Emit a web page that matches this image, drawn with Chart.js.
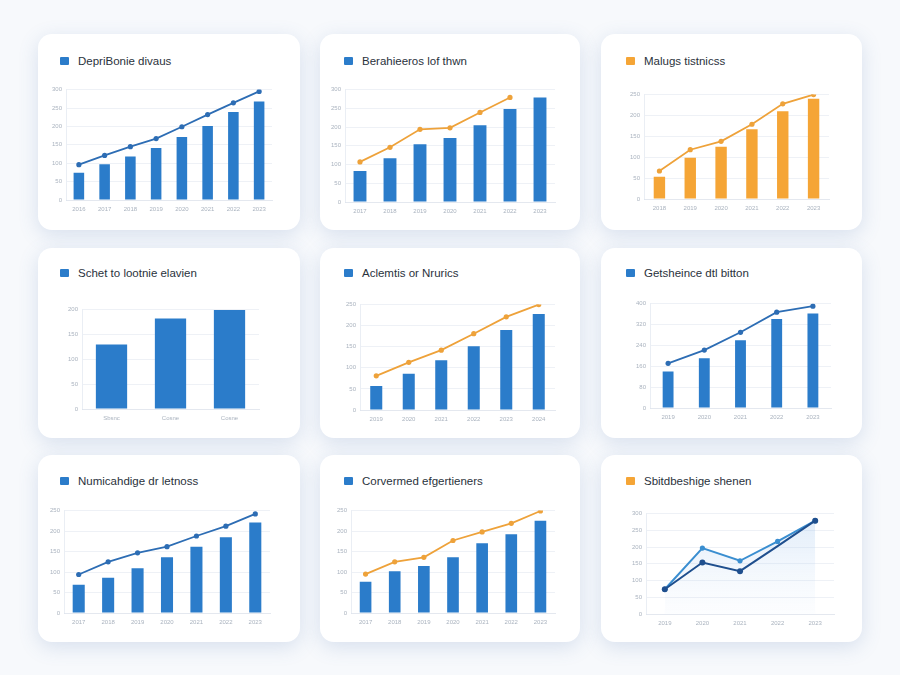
<!DOCTYPE html>
<html>
<head>
<meta charset="utf-8">
<script src="https://cdn.jsdelivr.net/npm/chart.js@4"></script>
<style>
  html, body { margin: 0; padding: 0; }
  body { width: 900px; height: 675px; background: #f7f9fc; position: relative; overflow: hidden; }
  .card { position: absolute; background: #fff; border-radius: 14px; box-shadow: 0 5px 20px rgba(70, 110, 170, 0.18); }
  .title { position: absolute; font: 11.5px "Liberation Sans", Arial, sans-serif; color: #2a323c; white-space: nowrap; }
  .title i { position: absolute; left: -18px; top: 2px; width: 9px; height: 8px; border-radius: 1px; }
  .box { position: absolute; }
</style>
</head>
<body>
<script>
const blue = '#2b7cca';
const blueLine = '#2d6db4';
const orange = '#f5a536';
const orangeLine = '#eea23a';

// card titles (as printed)
const titles = [
  'DepriBonie divaus', 'Berahieeros lof thwn', 'Malugs tistnicss',
  'Schet to lootnie elavien', 'Aclemtis or Nrurics', 'Getsheince dtl bitton',
  'Numicahdige dr letnoss', 'Corvermed efgertieners', 'Sbitdbeshige shenen'
];
const titleColors = [blue, blue, orange, blue, blue, blue, blue, blue, orange];

// chart 1
const c1Labels = ['2016', '2017', '2018', '2019', '2020', '2021', '2022', '2023'];
const c1Bars = [74, 97, 118, 141, 171, 201, 239, 268];
const c1Line = [96, 121, 145, 167, 199, 232, 264, 295];
// chart 2
const c2Labels = ['2017', '2018', '2019', '2020', '2021', '2022', '2023'];
const c2Bars = [83, 117, 154, 171, 205, 248, 279];
const c2Line = [107, 146, 194, 198, 239, 279, null];
// chart 3
const c3Labels = ['2018', '2019', '2020', '2021', '2022', '2023'];
const c3Bars = [53, 99, 125, 167, 210, 240];
const c3Line = [67, 118, 138, 179, 228, 250];
// chart 4
const c4Labels = ['Sbsnc', 'Cosne', 'Cosne'];
const c4Bars = [130, 182, 199];
// chart 5
const c5Labels = ['2019', '2020', '2021', '2022', '2023', '2024'];
const c5Bars = [57, 86, 118, 151, 190, 228];
const c5Line = [81, 113, 142, 181, 221, 250];
// chart 6
const c6Labels = ['2019', '2020', '2021', '2022', '2023'];
const c6Bars = [140, 191, 260, 341, 362];
const c6Line = [171, 222, 290, 367, 390];
// chart 7
const c7Labels = ['2017', '2018', '2019', '2020', '2021', '2022', '2023'];
const c7Bars = [69, 86, 109, 136, 162, 185, 221];
const c7Line = [94, 125, 147, 162, 188, 212, 242];
// chart 8
const c8Labels = ['2017', '2018', '2019', '2020', '2021', '2022', '2023'];
const c8Bars = [76, 102, 115, 136, 170, 192, 225];
const c8Line = [95, 125, 136, 177, 198, 219, 249];
// chart 9
const c9Labels = ['2019', '2020', '2021', '2022', '2023'];
const c9Upper = [74, 197, 159, 217, 279];
const c9Lower = [74, 154, 128, 203, 279];

// layout: cards [x, y, w, h], plot areas [left, right, top, bottom]
const cards = [
  [38, 34, 262, 196], [320, 34, 260, 196], [601, 34, 261, 196],
  [38, 248, 262, 190], [320, 248, 260, 190], [601, 248, 261, 190],
  [38, 455, 262, 187], [320, 455, 260, 187], [601, 455, 261, 187]
];
const titlePos = [[78, 55], [362, 55], [644, 55], [78, 267], [362, 267], [644, 267], [78, 475], [362, 475], [644, 475]];
const plots = [
  [66, 272, 87, 200], [345, 555, 87, 202], [644, 829, 92, 199],
  [82, 259, 307, 409], [360, 555, 302, 410], [650, 831, 301, 408],
  [64, 270, 508, 613], [351, 555, 508, 613], [646, 834, 511, 614]
];
const yW = 28, xH = 16, padTop = 5, padRight = 4;

cards.forEach((c, i) => {
  let d = document.createElement('div');
  d.className = 'card';
  Object.assign(d.style, { left: c[0] + 'px', top: c[1] + 'px', width: c[2] + 'px', height: c[3] + 'px' });
  document.body.appendChild(d);
  let t = document.createElement('div');
  t.className = 'title';
  t.style.left = titlePos[i][0] + 'px';
  t.style.top = titlePos[i][1] + 'px';
  t.innerHTML = `<i style="background:${titleColors[i]}"></i>${titles[i]}`;
  document.body.appendChild(t);
});

function barSet(data, color, pct) {
  return { type: 'bar', data, backgroundColor: color, barPercentage: pct, categoryPercentage: 1, order: 1 };
}
function lineSet(data, color) {
  return {
    type: 'line', data, borderColor: color, backgroundColor: color, borderWidth: 1.8,
    pointRadius: 2.6, pointBackgroundColor: color, pointBorderWidth: 0, tension: 0, order: 0
  };
}

function makeChart(i, labels, datasets, yMax, yStep) {
  let [L, R, T, B] = plots[i];
  let box = document.createElement('div');
  box.className = 'box';
  Object.assign(box.style, {
    left: (L - yW) + 'px', top: (T - padTop) + 'px',
    width: (R - L + yW + padRight) + 'px', height: (B - T + padTop + xH) + 'px'
  });
  let cv = document.createElement('canvas');
  box.appendChild(cv);
  document.body.appendChild(box);
  const tickFont = { family: 'Liberation Sans', size: 6 };
  return new Chart(cv, {
    type: 'bar',
    data: { labels, datasets },
    options: {
      responsive: true, maintainAspectRatio: false, animation: false,
      layout: { padding: { top: padTop, right: padRight, left: 0, bottom: 0 } },
      plugins: { legend: { display: false }, tooltip: { enabled: false } },
      scales: {
        x: {
          offset: true,
          grid: { display: false, drawTicks: false, tickLength: 0 },
          border: { color: '#e4e8ef' },
          ticks: { font: tickFont, color: '#aab3bf', padding: 6, maxRotation: 0, autoSkip: false },
          afterFit: (s) => { s.height = xH; }
        },
        y: {
          min: 0, max: yMax,
          grid: { color: 'rgba(205,215,228,0.35)', drawTicks: false },
          border: { color: 'rgba(220,226,236,0.6)' },
          ticks: { font: tickFont, color: '#aab3bf', padding: 4, stepSize: yStep },
          afterFit: (s) => { s.width = yW; }
        }
      }
    }
  });
}

makeChart(0, c1Labels, [lineSet(c1Line, blueLine), barSet(c1Bars, blue, 0.41)], 300, 50);
makeChart(1, c2Labels, [lineSet(c2Line, orangeLine), barSet(c2Bars, blue, 0.43)], 300, 50);
makeChart(2, c3Labels, [lineSet(c3Line, orangeLine), barSet(c3Bars, orange, 0.37)], 250, 50);
makeChart(3, c4Labels, [barSet(c4Bars, blue, 0.53)], 200, 50);
makeChart(4, c5Labels, [lineSet(c5Line, orangeLine), barSet(c5Bars, blue, 0.37)], 250, 50);
makeChart(5, c6Labels, [lineSet(c6Line, blueLine), barSet(c6Bars, blue, 0.30)], 400, 80);
makeChart(6, c7Labels, [lineSet(c7Line, blueLine), barSet(c7Bars, blue, 0.41)], 250, 50);
makeChart(7, c8Labels, [lineSet(c8Line, orangeLine), barSet(c8Bars, blue, 0.40)], 250, 50);

// chart 9: two lines with a soft area
const upper = lineSet(c9Upper, '#3a8ed0');
upper.fill = 'origin';
upper.borderWidth = 2;
upper.backgroundColor = (ctx) => {
  const a = ctx.chart.chartArea;
  if (!a) return 'rgba(150,190,235,0.2)';
  const g = ctx.chart.ctx.createLinearGradient(0, a.top, 0, a.bottom);
  g.addColorStop(0, 'rgba(140,185,235,0.28)');
  g.addColorStop(1, 'rgba(200,220,245,0.05)');
  return g;
};
upper.pointBackgroundColor = '#3a8ed0';
const lower = lineSet(c9Lower, '#1f4f8e');
lower.borderWidth = 2;
lower.pointRadius = [3, 3, 3, 0, 3];
makeChart(8, c9Labels, [lower, upper], 300, 50);
</script>
</body>
</html>
